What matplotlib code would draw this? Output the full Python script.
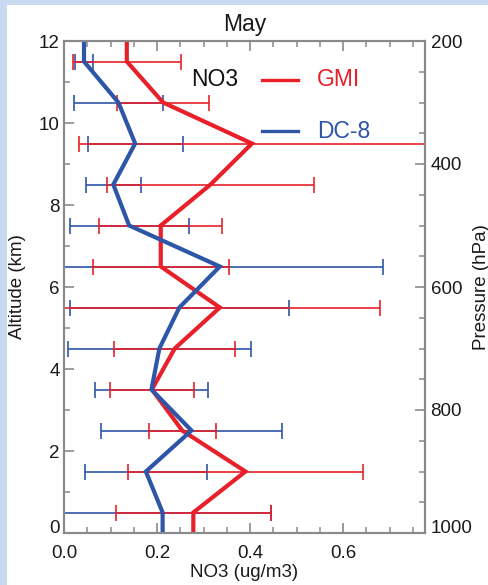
import numpy as np
import matplotlib
matplotlib.use('Agg')
import matplotlib.pyplot as plt
from matplotlib.patches import Rectangle
from matplotlib.ticker import MultipleLocator

plt.rcParams['font.family'] = ['Liberation Sans', 'DejaVu Sans']

# altitude bins (km, bin centres)
alt = [0.5, 1.5, 2.5, 3.5, 4.5, 5.5, 6.5, 7.5, 8.5, 9.5, 10.5, 11.5]

# GMI model NO3 (ug/m3) and its spread
gmi = [0.278, 0.390, 0.254, 0.189, 0.238, 0.335, 0.208, 0.208, 0.315, 0.404, 0.213, 0.135]
gmi_sd = [0.167, 0.253, 0.072, 0.091, 0.130, 0.344, 0.146, 0.132, 0.223, 0.372, 0.098, 0.116]

# DC-8 observed NO3 (ug/m3) and its spread
dc8 = [0.212, 0.176, 0.274, 0.188, 0.205, 0.248, 0.335, 0.140, 0.106, 0.153, 0.117, 0.043]
dc8_sd = [0.232, 0.131, 0.195, 0.122, 0.196, 0.236, 0.351, 0.128, 0.059, 0.102, 0.095, 0.020]

red = '#e8202a'
blue = '#2d55a8'
grey = '#8a8a8a'
ink = '#1a1a1a'

fig = plt.figure(figsize=(4.89, 5.85), dpi=100)
fig.patch.set_facecolor('#c8daf2')
fig.add_artist(Rectangle((7/489, 0), 1, 580/585, transform=fig.transFigure,
                         facecolor='white', edgecolor='none', zorder=-1))

ax = fig.add_axes([64/489, 52/585, 361/489, 492/585])

ax.errorbar(dc8, alt, xerr=dc8_sd, fmt='none', ecolor=blue, elinewidth=1.2,
            capsize=5.5, capthick=1.2, zorder=2)
ax.errorbar(gmi, alt, xerr=gmi_sd, fmt='none', ecolor=red, elinewidth=1.2,
            capsize=5.5, capthick=1.2, zorder=3)

# profiles held constant to the bottom and top of the range
y_full = np.r_[0, alt, 12]
ax.plot(np.r_[gmi[0], gmi, gmi[-1]], y_full, color=red, lw=3, zorder=4,
        solid_joinstyle='miter')
ax.plot(np.r_[dc8[0], dc8, dc8[-1]], y_full, color=blue, lw=3, zorder=5,
        solid_joinstyle='miter')

ax.set_xlim(0, 0.776)
ax.set_ylim(0, 12)
ax.xaxis.set_major_locator(MultipleLocator(0.2))
ax.xaxis.set_minor_locator(MultipleLocator(0.05))
ax.yaxis.set_major_locator(MultipleLocator(2))
ax.yaxis.set_minor_locator(MultipleLocator(1))
ax.xaxis.set_major_formatter(plt.FuncFormatter(lambda v, p: '%.1f' % v))
ax.tick_params(which='both', direction='in', top=True, right=False,
               color=grey, labelsize=13.5, labelcolor=ink)
ax.tick_params(axis='x', which='major', length=7, width=1.2, pad=9)
ax.tick_params(axis='y', which='major', length=7, width=1.2, pad=3)
ax.tick_params(which='minor', length=4, width=1.1)

ax2 = ax.twinx()
ax2.set_ylim(1000, 200)
ax2.yaxis.set_major_locator(MultipleLocator(200))
ax2.yaxis.set_minor_locator(MultipleLocator(50))
ax2.tick_params(which='both', direction='in', color=grey, labelsize=13.5,
                labelcolor=ink, pad=4)
ax2.tick_params(which='major', length=7, width=1.2)
ax2.tick_params(which='minor', length=4, width=1.1)

for a in (ax, ax2):
    for s in a.spines.values():
        s.set_color(grey)
        s.set_linewidth(1.5)

ax.set_title('May', fontsize=16.5, pad=7, color=ink)
ax.set_xlabel('NO3 (ug/m3)', fontsize=13.5, color=ink)
ax.xaxis.set_label_coords(0.5, -0.064)
ax.set_ylabel('Altitude (km)', fontsize=13.5, color=ink)
ax.yaxis.set_label_coords(-0.105, 0.5)
ax2.set_ylabel('Pressure (hPa)', fontsize=13.5, color=ink)
ax2.yaxis.set_label_coords(1.133, 0.5)

# key
ax.text(0.352, 0.921, 'NO3', transform=ax.transAxes, fontsize=16.5,
        va='center', ha='left', color='#111111')
ax.plot([0.548, 0.649], [0.921, 0.921], transform=ax.transAxes, color=red, lw=2.4)
ax.text(0.70, 0.921, 'GMI', transform=ax.transAxes, fontsize=16.5,
        va='center', ha='left', color=red)
ax.plot([0.548, 0.649], [0.817, 0.817], transform=ax.transAxes, color=blue, lw=2.4)
ax.text(0.70, 0.817, 'DC-8', transform=ax.transAxes, fontsize=16.5,
        va='center', ha='left', color=blue)

# sit the bottom labels of both vertical scales on the x axis line
fig.canvas.draw()
for lbl in ax.get_yticklabels() + ax2.get_yticklabels():
    if lbl.get_text() in ('0', '1000'):
        lbl.set_va('baseline')

fig.savefig('out.png', dpi=100, facecolor=fig.get_facecolor())
